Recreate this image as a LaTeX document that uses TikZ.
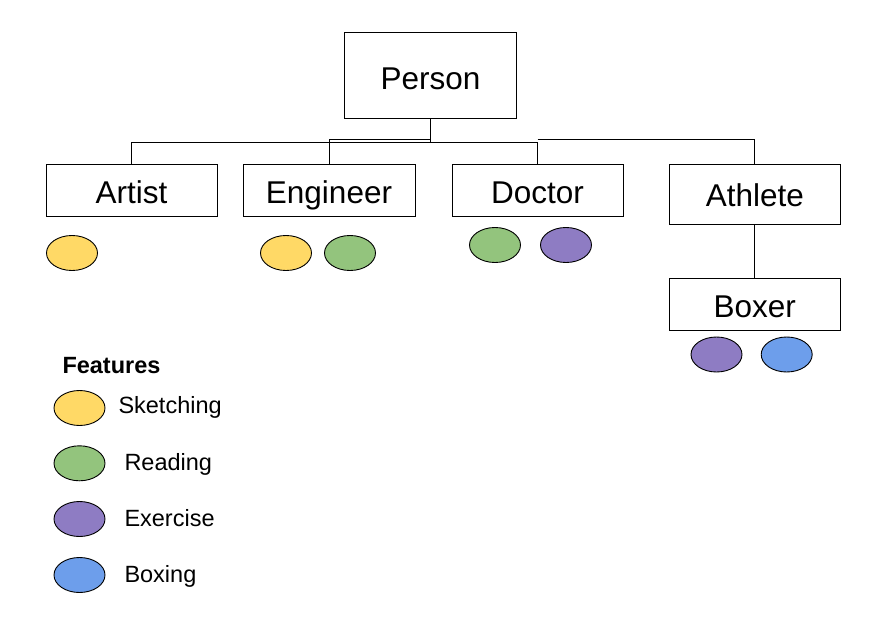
\documentclass[tikz,border=0pt]{standalone}
\usepackage{fontspec}
\setmainfont{Liberation Sans}
\usetikzlibrary{shapes.geometric}

\definecolor{sketchcol}{HTML}{FFD966}
\definecolor{readcol}{HTML}{93C47D}
\definecolor{exercol}{HTML}{8E7CC3}
\definecolor{boxcol}{HTML}{6D9EEB}

\begin{document}
\begin{tikzpicture}[x=1pt,y=-1pt,line width=1pt,
  classbox/.style={draw,rectangle,minimum width=171pt,minimum height=52pt,inner sep=0pt,text height=24.9pt,text depth=0pt,font=\fontsize{31.5}{36}\selectfont},
  feat/.style={draw,ellipse,line width=0.9pt,minimum width=51pt,minimum height=35pt,inner sep=0pt,fill=#1},
  legtext/.style={anchor=west,inner sep=0pt,text height=16.8pt,text depth=0pt,font=\fontsize{23.5}{28}\selectfont}]

\useasboundingbox (0,0) rectangle (870,616);

\begin{scope}
\node[classbox,minimum width=172pt,minimum height=86pt,text height=27.9pt] (person) at (430.5,75.5) {Person};
\node[classbox] (artist) at (131.5,190.8) {Artist};
\node[classbox,minimum width=172pt] (engineer) at (329,190.8) {Engineer};
\node[classbox] (doctor) at (537.5,190.8) {Doctor};
\node[classbox,minimum height=60pt,text height=24.5pt] (athlete) at (754.8,194.3) {Athlete};
\node[classbox,text height=25.1pt] (boxer) at (754.8,304.5) {Boxer};

\coordinate (bus) at (430.5,142.3);
\coordinate (bus2) at (430.5,139.8);

\draw (person.south) -- (bus);
\draw (artist.north) |- (doctor.north |- bus) -- (doctor.north);
\draw (engineer.north) |- (bus2);
\draw (doctor.north |- bus2) -| (athlete.north);
\draw (athlete) -- (boxer);

\node[feat=sketchcol] (artist-sk) at (72,253) {};
\node[feat=sketchcol] (engineer-sk) at (286,253) {};
\node[feat=readcol] (engineer-rd) at (350,253) {};
\node[feat=readcol] (doctor-rd) at (495,245) {};
\node[feat=exercol] (doctor-ex) at (566,245) {};
\node[feat=exercol] (boxer-ex) at (716.5,354.5) {};
\node[feat=boxcol] (boxer-bx) at (786.7,354.5) {};
\end{scope}

% legend
\node[legtext,font=\fontsize{23.5}{28}\selectfont\bfseries] (features) at (62,365.3) {Features};
\node[feat=sketchcol] (leg-sk) at (79.5,408) {};
\node[feat=readcol] (leg-rd) at (79.5,463.3) {};
\node[feat=exercol] (leg-ex) at (79.5,519) {};
\node[feat=boxcol] (leg-bx) at (79.5,575) {};
\node[legtext] (sketching) at (118,405.5) {Sketching};
\node[legtext] (reading) at (124,462) {Reading};
\node[legtext] (exercise) at (124,518) {Exercise};
\node[legtext] (boxing) at (124,574.5) {Boxing};

\end{tikzpicture}
\end{document}
